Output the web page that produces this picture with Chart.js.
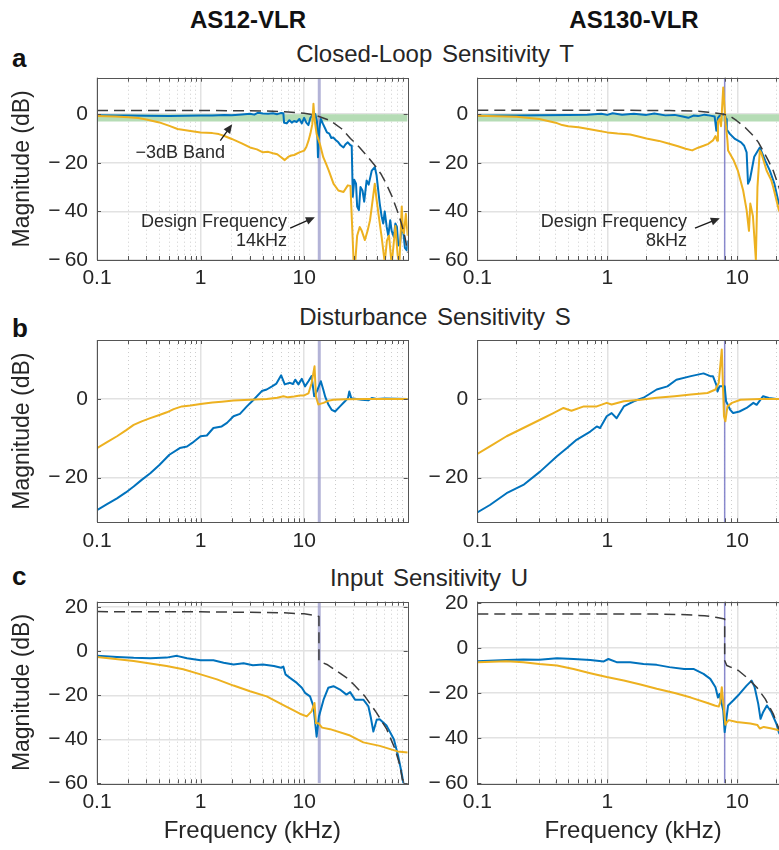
<!DOCTYPE html>
<html>
<head>
<meta charset="utf-8">
<title>Closed-loop, disturbance and input sensitivity</title>
<script src="https://cdn.jsdelivr.net/npm/chart.js@4.4.1/dist/chart.umd.min.js"></script>
<style>
  html, body { margin: 0; padding: 0; background: #fff; overflow: hidden; }
  body { width: 779px; height: 850px; position: relative; font-family: "Liberation Sans", Arial, Helvetica, sans-serif; color: #262626; }
  .txt { position: absolute; white-space: nowrap; line-height: 1; transform: translate(-50%, -50%); }
  .head { font-weight: bold; font-size: 24px; color: #111; }
  .panel { font-size: 24px; word-spacing: 3px; }
  .letter { font-weight: bold; font-size: 26px; color: #111; transform: translate(0, -50%); }
  canvas { position: absolute; }
</style>
</head>
<body>
<div class="txt head" style="left:248px;top:20px">AS12-VLR</div>
<div class="txt head" style="left:634px;top:20px">AS130-VLR</div>
<div class="txt letter" style="left:12px;top:58px">a</div>
<div class="txt letter" style="left:12px;top:328px">b</div>
<div class="txt letter" style="left:12px;top:576px">c</div>
<div class="txt panel" style="left:435px;top:54px">Closed-Loop Sensitivity T</div>
<div class="txt panel" style="left:435px;top:317px">Disturbance Sensitivity S</div>
<div class="txt panel" style="left:429px;top:578px">Input Sensitivity U</div>

<script>
// ---- data: [frequency in kHz, magnitude in dB] ----

// closed-loop sensitivity T
const tAs12Bound = [[0.1,1.5],[1,1.5],[3,1.4],[5,1.2],[7,0.9],[10,0.4],[13,-0.5],[18,-2.7],[23,-6],[28,-10],[34,-13.5],[39,-16.4],[48,-21],[55,-24.5],[62,-28.6],[70,-33.5],[79,-39.5],[87,-45],[94,-50.5],[100,-57]];
const tAs12Blue = [[0.1,-0.4],[0.15,-0.5],[0.2,-0.6],[0.3,-0.7],[0.5,-0.8],[0.7,-0.7],[1,-0.6],[1.3,-0.5],[1.7,-0.3],[2,-0.4],[2.5,-0.1],[3,0.2],[3.3,-0.2],[3.6,0.6],[4,0.3],[4.5,0.2],[5,0.4],[5.5,0],[6,0.5],[6.3,0.4],[6.4,-3.5],[6.8,-3.8],[7.2,-2.5],[7.6,-3.5],[8,-2.8],[8.5,-3.2],[9,-2],[9.5,-3.8],[10,-1.5],[10.5,-3.5],[11,-4.5],[11.5,-1.5],[12,-0.5],[12.8,0],[13.3,-3],[13.6,-17.7],[14,-6],[14.5,-2],[15.2,-4],[16,-6],[16.6,-7.5],[17.5,-8],[18.3,-9.8],[19.1,-9.6],[20,-10.5],[21.4,-11.6],[22.5,-12.8],[24,-13.7],[25,-12.5],[26.4,-11.6],[28,-12.8],[28.8,-13],[29.5,-34],[30.5,-27],[31.7,-28.6],[32.5,-38],[33.8,-39.5],[35,-30],[36.6,-31.4],[38,-36],[40.1,-27.3],[42,-29],[45,-23.2],[48.1,-21.8],[50,-25],[53.7,-36.8],[56,-42],[58,-45],[60,-40],[62.7,-46.4],[65,-50],[67.8,-43.6],[70,-48],[73.5,-50.5],[76,-45],[78.7,-46.4],[81,-54],[84.3,-53.4],[87,-47],[91,-49],[94,-55],[98,-56],[100,-52]];
const tAs12Yellow = [[0.1,-0.8],[0.15,-1],[0.2,-1.3],[0.25,-1.6],[0.3,-2.2],[0.4,-3.4],[0.5,-4.8],[0.6,-6.1],[0.8,-6.9],[1,-7.5],[1.3,-7.8],[1.5,-8.2],[1.7,-9],[2,-10.2],[2.5,-12],[3,-13.7],[3.5,-14.5],[4,-15.7],[4.5,-15.5],[5,-16.1],[5.5,-16.5],[6,-17.7],[6.5,-18.9],[7,-17.6],[7.5,-17],[8,-16.8],[9,-15.7],[10,-15],[10.5,-13.5],[11,-11],[11.5,-8],[12,-4.1],[12.3,4.3],[12.6,-2],[13.2,-8.2],[14.2,-12.3],[15.3,-17.7],[16.3,-20.5],[17.3,-23.2],[19.2,-28.6],[21.4,-31.4],[24,-32],[26.4,-29.3],[28,-29.5],[29,-45],[30,-60],[31,-62],[32.5,-50],[34.4,-46.4],[36,-48],[38.6,-51.8],[41,-48],[43.3,-43.6],[46,-35],[48.1,-28.6],[50,-35],[52.2,-41],[56,-50.5],[60,-61],[63,-52],[66,-50],[70,-62],[76,-46],[80,-58],[83,-62],[87.6,-38],[90,-48],[92,-49],[96,-41],[100,-50]];
const tAs130Bound = [[0.1,1.6],[1,1.6],[3,1.5],[5,1.2],[6,0.8],[7,0.4],[7.9,0],[9,-1.2],[9.9,-2.7],[11.5,-5.5],[13.3,-8.9],[14.5,-11.5],[15.8,-15],[17.3,-19],[18.9,-23.2],[20.9,-30],[23,-37],[25,-44]];
const tAs130Blue = [[0.1,-0.7],[0.15,-0.6],[0.2,-0.5],[0.3,-0.4],[0.5,-0.3],[0.7,-0.2],[0.9,0.2],[1,-0.3],[1.1,0.4],[1.3,-0.2],[1.6,0.2],[2,-0.3],[2.3,0.3],[2.8,-0.5],[3.3,-0.3],[3.8,-1],[4.2,-1.5],[4.6,-0.6],[5,-0.8],[5.6,-0.2],[6.2,-0.6],[6.7,-1],[6.9,-6.8],[7.1,-1.5],[7.3,-0.7],[8,0],[8.2,-2],[8.3,-6.4],[8.8,-8.2],[9.6,-10.2],[10.7,-11.6],[11.3,-13],[11.8,-15.7],[12.1,-28.6],[12.5,-27],[12.9,-23.2],[13.5,-17.5],[14.9,-13.7],[16.4,-19.1],[17.8,-23.2],[19.3,-28.6],[20.9,-36.8],[23,-40],[25,-46]];
const tAs130Yellow = [[0.1,-0.7],[0.2,-1.1],[0.3,-2],[0.4,-3.5],[0.45,-4.5],[0.5,-5],[0.6,-5.4],[0.7,-6],[0.85,-6.8],[1,-7.5],[1.2,-8],[1.5,-8.4],[1.8,-9.4],[2,-10],[2.5,-11],[3,-12.2],[3.5,-13.2],[4,-14.2],[4.5,-14.9],[5,-13.8],[5.5,-13],[6,-12.2],[6.5,-10.8],[6.8,-9],[7,-10.9],[7.1,-3],[7.3,-2],[7.5,-5],[7.8,11],[8.1,-2.7],[8.4,-10.8],[8.5,-15],[9.4,-19.1],[10.1,-23.2],[11.1,-31.4],[11.8,-39.5],[12.3,-48],[12.6,-36.8],[13.2,-42],[13.9,-60],[14.3,-30],[14.9,-15],[15.3,-16],[16.8,-23.2],[18.2,-27],[18.9,-30],[20.9,-39.5],[23,-44],[25,-50]];

// disturbance sensitivity S
const sAs12Blue = [[0.1,-28.3],[0.125,-26.8],[0.156,-25.3],[0.19,-23.8],[0.226,-22.3],[0.27,-20.6],[0.327,-18.9],[0.4,-16.8],[0.5,-14.2],[0.63,-12.5],[0.74,-12.1],[0.83,-11.2],[1,-9.5],[1.15,-9.3],[1.33,-7.4],[1.6,-7],[1.8,-6.1],[2.08,-4.4],[2.4,-3.8],[2.8,-1.9],[3.2,-0.4],[3.9,2],[4.35,2.4],[4.9,3.2],[5.4,3.9],[6,6],[6.5,3.7],[7.3,4.1],[7.8,3.8],[8.2,4.9],[8.8,3.7],[9.5,5.1],[10.2,3.2],[11,4.5],[11.8,5.8],[12.5,0.7],[13.3,2],[14.5,4.5],[15.3,2.4],[16,0.5],[17.2,-1.5],[18.5,-2.8],[19.9,-3.2],[22.2,-1.9],[24.8,-0.6],[26.5,0.2],[27.3,1.9],[28.5,0.2],[32,0],[36,-0.2],[41.7,-0.35],[45,0.25],[50,0],[60,0.1],[100,0]];
const sAs12Yellow = [[0.1,-12.5],[0.125,-11],[0.156,-9.5],[0.19,-8],[0.226,-6.6],[0.27,-5.7],[0.327,-4.9],[0.4,-4.1],[0.473,-3.4],[0.55,-2.6],[0.66,-1.9],[0.8,-1.7],[1,-1.3],[1.3,-0.9],[1.6,-0.7],[2.08,-0.4],[3,-0.2],[4.35,0],[5.5,0.3],[6.3,0.7],[7,0.4],[8,0.6],[9.1,0.85],[10,0.9],[11,1.4],[11.8,4],[12.6,8.3],[13,0.7],[13.7,-1.4],[14.5,-1.2],[15.4,-1],[17,-0.5],[19.1,-0.2],[25,-0.1],[40,0],[100,0]];
const sAs130Blue = [[0.1,-28.9],[0.125,-27],[0.168,-24],[0.226,-21.9],[0.304,-18.5],[0.41,-14.6],[0.49,-12.5],[0.58,-10.4],[0.74,-8.3],[0.83,-7],[0.88,-7.4],[0.99,-4.4],[1.08,-3.6],[1.18,-4.9],[1.34,-1.9],[1.6,-0.6],[1.9,0.3],[2.4,2.4],[2.9,3.2],[3.4,4.9],[4.4,5.8],[5.5,6.5],[6.2,5.8],[6.5,5.8],[6.9,3.6],[7.05,1.9],[7.3,3.2],[8,3.2],[8.2,-0.6],[8.8,-2.7],[9.3,-3.6],[10.4,-3.2],[11.8,-2.3],[13.3,-1],[14.1,-1.5],[15.8,0.7],[17.5,0.25],[20,0],[25,0]];
const sAs130Yellow = [[0.1,-14],[0.125,-12.1],[0.168,-9.5],[0.226,-7.4],[0.304,-5.3],[0.385,-3.6],[0.46,-2.3],[0.53,-3],[0.66,-1.9],[0.83,-1.9],[0.99,-1],[1.08,-1.4],[1.34,-0.6],[1.8,-0.2],[2.4,0.3],[3.3,0.7],[4.4,1.1],[5.9,1.5],[6.8,2.4],[7.2,4.1],[7.6,12.6],[7.9,-4.4],[8.1,-5.7],[8.4,-1.9],[9.1,-1],[10.6,-0.2],[15,0],[25,0]];

// input sensitivity U
const uAs12Bound = [[0.1,18],[1,17.9],[5.9,17.5],[10,17],[12.5,16.3],[13.9,15.8],[13.9,-4.5],[16.6,-6],[19.2,-8],[25.6,-12],[30,-15],[38.5,-20.4],[49.9,-27.9],[62.7,-35.4],[75.6,-44.5],[84.3,-52],[89.5,-59.3],[92,-64]];
const uAs12Blue = [[0.1,-2.1],[0.156,-2.6],[0.226,-3],[0.327,-3.2],[0.47,-2.9],[0.59,-2.1],[0.74,-3.2],[1,-4.1],[1.33,-4.1],[1.67,-5.2],[2.08,-6],[2.6,-5.5],[3.2,-6.4],[4,-6],[5.1,-6.7],[6,-7.5],[6.3,-7],[6.6,-10.5],[7.3,-12.1],[8.5,-14.4],[9.5,-16.6],[10.2,-18.9],[11.4,-20.5],[12.3,-25],[13.2,-38.8],[13.9,-29.6],[15.4,-22],[17.1,-16.6],[19.2,-15.9],[22.2,-17.4],[25.6,-19.7],[27.8,-18.6],[31,-22],[37.3,-22],[41.7,-25],[44,-30],[46.6,-36.5],[50.2,-31.1],[53.6,-30.9],[62.7,-33.9],[73.5,-40],[80.8,-47.5],[87.1,-55],[91,-60],[95,-65]];
const uAs12Yellow = [[0.1,-2.6],[0.226,-4.4],[0.47,-6.7],[0.68,-8.2],[1,-10.5],[1.44,-12.8],[2.08,-15.6],[3,-18.2],[4.35,-20.5],[6.3,-24.5],[8,-27],[9.1,-28.4],[10.6,-29.6],[11.8,-27.3],[12.6,-23.5],[13,-32.7],[13.7,-32.7],[14.9,-34.7],[17.8,-35.4],[27.8,-38.3],[37.3,-41.4],[53.7,-43],[80,-45.5],[100,-46]];
const uAs130Bound = [[0.1,15],[1,15],[2.4,15],[3.66,14.8],[5.6,14.3],[7,13.5],[8,12.8],[8,-5.6],[8.3,-7.8],[10.2,-10],[11.8,-13],[14.1,-17.4],[16.4,-22.6],[18.9,-29.2],[20.9,-35.8],[23,-42],[25,-49]];
const uAs130Blue = [[0.1,-5.9],[0.168,-5.3],[0.226,-5.1],[0.3,-5.2],[0.41,-4.6],[0.55,-4.9],[0.74,-5.3],[0.94,-6],[1.02,-4.9],[1.18,-6.3],[1.5,-6.3],[1.9,-7.1],[2.4,-7.5],[3,-8.5],[3.9,-9.3],[4.6,-9.3],[5.5,-11.5],[6.2,-13.7],[6.8,-17.4],[7.1,-22],[7.3,-20.4],[7.8,-27.7],[8,-37.3],[8.5,-25.5],[9.3,-23.3],[10.4,-20.4],[11.8,-16.7],[12.9,-14.5],[13.6,-17.4],[14.5,-24.8],[15.1,-31.4],[15.8,-28.5],[16.9,-25.5],[18.3,-28.5],[20,-33.6],[20.9,-37.5],[23,-42],[25,-47]];
const uAs130Yellow = [[0.1,-6.3],[0.168,-5.9],[0.226,-6.3],[0.3,-7.1],[0.41,-7.8],[0.55,-9.3],[0.74,-11.2],[0.99,-12.9],[1.34,-14.4],[1.8,-16.2],[2.4,-18.1],[3.3,-20],[4.4,-22],[5.9,-24.4],[6.7,-25.5],[7.2,-26],[7.4,-24],[7.6,-17.4],[7.8,-24],[8,-30.7],[8.1,-34],[8.3,-33],[8.6,-32],[9.9,-32.8],[12.6,-33.5],[14.3,-34.2],[14.9,-35.7],[16,-35],[18,-35.6],[21,-36.5],[25,-37.5]];

// ticks, design frequencies, -3 dB band
const xTickLabels = [0.1, 1, 10];
const xMinorAs12 = [0.2,0.3,0.4,0.5,0.6,0.7,0.8,0.9,2,3,4,5,6,7,8,9,20,30,40,50,60,70,80,90];
const xMinorAs130 = [0.2,0.3,0.4,0.5,0.6,0.7,0.8,0.9,2,3,4,5,6,7,8,9,20];
const yTicksT = [-60, -40, -20, 0];
const yTicksS = [-20, 0];
const yTicksU = [-60, -40, -20, 0, 20];
const designAs12 = 14;
const designAs130 = 8;
const bandTop = 0, bandBottom = -3;

// ---- drawing ----
Chart.defaults.font.family = '"Liberation Sans", Arial, Helvetica, sans-serif';
Chart.defaults.color = '#262626';

const BLUE = '#0072bd', YELLOW = '#edb120', BOUND = '#3c3c3c';

function pts(arr) { return arr.map(p => ({ x: p[0], y: p[1] })); }
function fmtDb(v) { return v < 0 ? '\u2212\u2009' + (-v) : String(v); }

function lineDs(label, data, color, width, order, dash) {
    return { label, data: pts(data), borderColor: color, borderWidth: width, borderDash: dash || [],
             pointRadius: 0, showLine: true, fill: false, tension: 0, order, borderJoinStyle: 'round' };
}

function arrow(ctx, x0, y0, x1, y1) {
    const a = Math.atan2(y1 - y0, x1 - x0);
    ctx.beginPath(); ctx.moveTo(x0, y0); ctx.lineTo(x1 - 6 * Math.cos(a), y1 - 6 * Math.sin(a)); ctx.stroke();
    ctx.beginPath();
    ctx.moveTo(x1, y1);
    ctx.lineTo(x1 - 9 * Math.cos(a) + 4 * Math.sin(a), y1 - 9 * Math.sin(a) - 4 * Math.cos(a));
    ctx.lineTo(x1 - 9 * Math.cos(a) - 4 * Math.sin(a), y1 - 9 * Math.sin(a) + 4 * Math.cos(a));
    ctx.closePath(); ctx.fill();
}

function makePanel(p) {
    const left = p.col === 0 ? 0 : 390;
    const width = p.col === 0 ? 414 : 405;
    const top = Math.floor(p.plot.t - 20);
    const bottom = p.last ? 850 : Math.round(p.plot.b + 45);
    const height = bottom - top;
    const cv = document.createElement('canvas');
    cv.width = width; cv.height = height;
    cv.style.left = left + 'px'; cv.style.top = top + 'px';
    cv.style.width = width + 'px'; cv.style.height = height + 'px';
    document.body.appendChild(cv);

    const padBottom = 4;
    const yW = p.plot.l - left;
    const xH = bottom - padBottom - p.plot.b;

    const ds = [];
    if (p.bound) ds.push(lineDs('bound', p.bound, BOUND, 1.5, 0, [11, 6]));
    ds.push(lineDs('yellow', p.yellow, YELLOW, 2, 1));
    ds.push(lineDs('blue', p.blue, BLUE, 2, 2));
    ds.push(lineDs('design frequency', [[p.design, p.yMin], [p.design, p.yMax]], p.designColor, p.designWidth, 3));
    if (p.band) {
        const b = lineDs('-3dB band', [[0.1, bandTop], [p.xMax, bandTop]], 'rgba(0,0,0,0)', 0, 4);
        b.fill = { value: bandBottom };
        b.backgroundColor = '#b5dcb5';
        ds.push(b);
    }

    const frame = {
        id: 'frame',
        afterDatasetsDraw(chart) {
            const { ctx, chartArea: a, scales } = chart;
            ctx.save();
            ctx.strokeStyle = '#555';
            ctx.lineWidth = 1;
            ctx.strokeRect(Math.round(a.left) + 0.5, Math.round(a.top) + 0.5,
                           Math.round(a.right - a.left), Math.round(a.bottom - a.top));
            ctx.beginPath();
            xTickLabels.concat(p.minor).forEach(v => {
                const x = Math.round(scales.x.getPixelForValue(v)) + 0.5;
                ctx.moveTo(x, a.bottom); ctx.lineTo(x, a.bottom - 4);
                ctx.moveTo(x, a.top); ctx.lineTo(x, a.top + 4);
            });
            p.yTicks.forEach(v => {
                const y = Math.round(scales.y.getPixelForValue(v)) + 0.5;
                ctx.moveTo(a.left, y); ctx.lineTo(a.left + 4, y);
                ctx.moveTo(a.right, y); ctx.lineTo(a.right - 4, y);
            });
            ctx.stroke();
            ctx.restore();
        },
        afterDraw(chart) {
            if (!p.notes) return;
            const { ctx, scales } = chart;
            ctx.save();
            ctx.fillStyle = '#2a2a2a';
            ctx.strokeStyle = '#1a1a1a';
            ctx.lineWidth = 1.3;
            ctx.font = '18px "Liberation Sans", Arial, sans-serif';
            ctx.textBaseline = 'middle';
            p.notes.texts.forEach(n => {
                ctx.textAlign = n.align;
                ctx.fillText(n.t, scales.x.getPixelForValue(n.x), scales.y.getPixelForValue(n.y));
            });
            p.notes.arrows.forEach(ar => {
                arrow(ctx, scales.x.getPixelForValue(ar[0][0]), scales.y.getPixelForValue(ar[0][1]),
                      scales.x.getPixelForValue(ar[1][0]), scales.y.getPixelForValue(ar[1][1]));
            });
            ctx.restore();
        }
    };

    return new Chart(cv, {
        type: 'scatter',
        data: { datasets: ds },
        options: {
            responsive: false,
            animation: false,
            devicePixelRatio: 1,
            events: [],
            layout: { padding: { top: p.plot.t - top, right: left + width - p.plot.r, bottom: padBottom, left: 0 } },
            plugins: { legend: { display: false }, tooltip: { enabled: false } },
            scales: {
                x: {
                    type: 'logarithmic', min: 0.1, max: p.xMax, position: 'bottom',
                    afterBuildTicks: s => { s.ticks = xTickLabels.map(v => ({ value: v })); },
                    afterFit: s => { s.height = xH; s.paddingLeft = 0; s.paddingRight = 0; },
                    ticks: { callback: v => String(v), padding: 6, autoSkip: false, maxRotation: 0, font: { size: 21 }, color: '#262626' },
                    grid: { color: '#e2e2e2', lineWidth: 1.5, drawTicks: false },
                    border: { display: false },
                    title: { display: !!p.last, text: 'Frequency (kHz)', font: { size: 24 }, color: '#262626', padding: { top: 0, bottom: 0 } }
                },
                x2: {
                    type: 'logarithmic', min: 0.1, max: p.xMax, position: 'bottom',
                    afterBuildTicks: s => { s.ticks = p.minor.map(v => ({ value: v })); },
                    afterFit: s => { s.height = 0; s.paddingLeft = 0; s.paddingRight = 0; },
                    ticks: { display: false },
                    grid: { color: '#cdcdcd', lineWidth: 1, drawTicks: false },
                    border: { display: false, dash: [1, 3] }
                },
                y: {
                    min: p.yMin, max: p.yMax,
                    afterBuildTicks: s => { s.ticks = p.yTicks.map(v => ({ value: v })); },
                    afterFit: s => { s.width = yW; s.paddingTop = 0; s.paddingBottom = 0; },
                    ticks: { callback: fmtDb, padding: 9, font: { size: 21 }, color: '#262626' },
                    grid: { color: '#e2e2e2', lineWidth: 1.5, drawTicks: false },
                    border: { display: false },
                    title: { display: p.col === 0, text: 'Magnitude (dB)', font: { size: 23 }, color: '#262626', padding: { top: 9, bottom: 0 } }
                }
            }
        },
        plugins: [frame]
    });
}

const rowT = { t: 77.7, b: 260 }, rowS = { t: 340, b: 522.3 }, rowU = { t: 601.7, b: 783.3 };
const colAs12 = { l: 97, r: 407.7 }, colAs130 = { l: 477.3, r: 789 };
const designStyleAs12 = { designColor: 'rgba(160,160,205,0.8)', designWidth: 3 };
const designStyleAs130 = { designColor: 'rgba(125,125,200,0.9)', designWidth: 1.5 };

const notesT12 = {
    texts: [
        { t: '\u22123dB Band', x: 0.636, y: -16, align: 'center' },
        { t: 'Design Frequency', x: 6.84, y: -44.4, align: 'right' },
        { t: '14kHz', x: 6.84, y: -52.2, align: 'right' }
    ],
    arrows: [[[1.55, -10.9], [2.02, -4.2]], [[7.33, -46.9], [12.7, -42.4]]]
};
const notesT130 = {
    texts: [
        { t: 'Design Frequency', x: 4.1, y: -44.4, align: 'right' },
        { t: '8kHz', x: 4.1, y: -52.2, align: 'right' }
    ],
    arrows: [[[4.73, -46.9], [7.34, -42.8]]]
};

makePanel(Object.assign({ col: 0, plot: Object.assign({}, rowT, colAs12), xMax: 100, yMin: -60, yMax: 15, yTicks: yTicksT, minor: xMinorAs12,
    bound: tAs12Bound, blue: tAs12Blue, yellow: tAs12Yellow, design: designAs12, band: true, notes: notesT12 }, designStyleAs12));
makePanel(Object.assign({ col: 1, plot: Object.assign({}, rowT, colAs130), xMax: 25, yMin: -60, yMax: 15, yTicks: yTicksT, minor: xMinorAs130,
    bound: tAs130Bound, blue: tAs130Blue, yellow: tAs130Yellow, design: designAs130, band: true, notes: notesT130 }, designStyleAs130));
makePanel(Object.assign({ col: 0, plot: Object.assign({}, rowS, colAs12), xMax: 100, yMin: -31.4, yMax: 15, yTicks: yTicksS, minor: xMinorAs12,
    blue: sAs12Blue, yellow: sAs12Yellow, design: designAs12 }, designStyleAs12));
makePanel(Object.assign({ col: 1, plot: Object.assign({}, rowS, colAs130), xMax: 25, yMin: -31.4, yMax: 15, yTicks: yTicksS, minor: xMinorAs130,
    blue: sAs130Blue, yellow: sAs130Yellow, design: designAs130 }, designStyleAs130));
makePanel(Object.assign({ col: 0, last: true, plot: Object.assign({}, rowU, colAs12), xMax: 100, yMin: -60, yMax: 22.5, yTicks: yTicksU, minor: xMinorAs12,
    bound: uAs12Bound, blue: uAs12Blue, yellow: uAs12Yellow, design: designAs12 }, designStyleAs12));
makePanel(Object.assign({ col: 1, last: true, plot: Object.assign({}, rowU, colAs130), xMax: 25, yMin: -60, yMax: 20.5, yTicks: yTicksU, minor: xMinorAs130,
    bound: uAs130Bound, blue: uAs130Blue, yellow: uAs130Yellow, design: designAs130 }, designStyleAs130));
</script>
</body>
</html>
